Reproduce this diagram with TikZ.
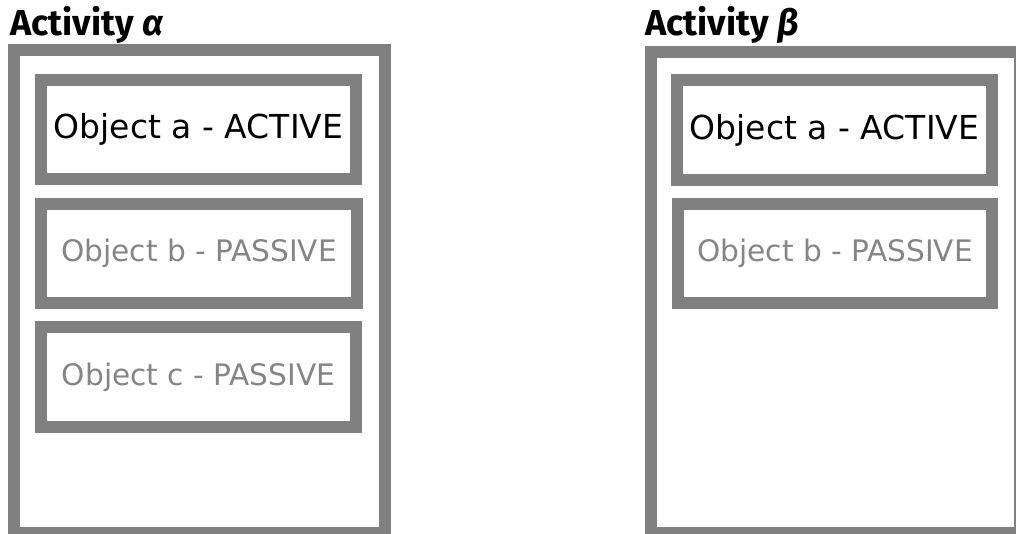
\documentclass[tikz,border=0pt]{standalone}
\usepackage{fontspec}
\setmainfont{DejaVu Sans}
\newfontfamily\titlefont{Fira Sans}
\definecolor{boxgray}{HTML}{808080}
\definecolor{passgray}{HTML}{858585}
\begin{document}
\begin{tikzpicture}[x=1pt,y=-1pt,
  frame/.style={draw=boxgray,line width=12pt,rectangle,inner sep=0pt},
  obj/.style={frame,minimum width=315pt,minimum height=99pt},
  active/.style={font=\fontsize{33}{38}\selectfont,text=black},
  passive/.style={font=\fontsize{29.6}{34}\selectfont,text=passgray},
  title/.style={font=\titlefont\bfseries\fontsize{36}{40}\selectfont,anchor=base west,inner sep=0pt}]
\useasboundingbox (0,0) rectangle (1016,534);
\clip (0,0) rectangle (1016,534);
% Activity alpha
\node[frame,minimum width=371pt,minimum height=482.5pt] (actA) at (199.5,291.75) {};
\node[title] (titleA) at (10,36) {Activity \itshape α};
\node[obj,active] (aA) at (198.5,129.5) {Object a - ACTIVE};
\node[obj,passive,minimum width=316pt] (bA) at (199,253.5) {Object b - PASSIVE};
\node[obj,passive,minimum height=100pt] (cA) at (198.5,377) {Object c - PASSIVE};
% Activity beta
\node[frame,minimum width=369pt,minimum height=481pt] (actB) at (835.5,292.5) {};
\node[title] (titleB) at (645,36) {Activity \itshape β};
\node[obj,active,minimum height=100pt] (aB) at (834.5,130) {Object a - ACTIVE};
\node[obj,passive,minimum width=314pt] (bB) at (835,253.5) {Object b - PASSIVE};
\end{tikzpicture}
\end{document}
